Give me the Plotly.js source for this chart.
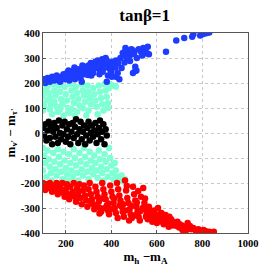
<!DOCTYPE html>
<html><head><meta charset="utf-8">
<script src="https://cdn.plot.ly/plotly-3.0.1.min.js"></script>
<style>html,body{margin:0;padding:0;background:#fff}</style>
</head><body><div id="chart" style="width:273px;height:273px"></div>
<script>
const titleText = "tanβ=1";
const xTickVals = [200,400,600,800,1000];
const yTickVals = [-400,-300,-200,-100,0,100,200,300,400];

const blueX = [100,105,110,115,120,130,135,140,150,155,160,170,175,180,190,195,200,205,210,215,220,225,230,235,240,245,250,255,260,265,270,275,280,285,290,295,300,305,310,315,320,325,330,335,340,345,350,355,360,365,370,375,380,385,390,395,400,405,410,420,430,440,445,450,455,460,470,475,480,490,495,500,505,510,520,530,540,545,550,560,565,640,685,720,755,760,790,800,810,820,830,380,435,495,505,420,470,
  212,238,262,288,312,338,362,392,418,247,273,298,322,348,372,402,428,458,482,512,536,558,462,488];
const blueY = [205,215,200,210,220,205,215,225,210,220,230,215,205,225,235,215,230,240,220,210,235,245,225,250,215,240,230,255,245,220,205,250,260,235,265,245,270,255,280,265,240,275,285,260,290,270,250,285,295,265,280,300,290,230,275,255,245,285,270,290,280,300,260,320,310,325,300,330,310,315,330,320,265,250,335,325,340,320,330,345,315,325,370,380,385,395,390,395,398,400,402,205,215,240,248,225,300,
  250,262,235,252,230,262,245,258,262,228,270,232,258,235,262,225,240,282,288,300,310,318,340,335];

const cyanX = [105,110,100,115,105,100,120,125,130,135,130,140,145,150,155,150,160,165,170,175,180,185,175,190,195,200,205,210,215,220,225,230,235,225,245,250,255,260,250,270,275,280,285,275,295,300,305,310,300,320,325,330,335,345,350,355,360,365,370,375,380,385,390,395,405,420,385,340,290,240,
  100,105,110,100,115,120,125,130,135,140,145,150,155,160,165,170,175,180,185,190,195,200,205,210,215,220,225,230,235,240,245,250,255,260,265,270,275,280,285,290,295,300,305,310,315,320,325,330,335,340,345,350,355,360,365,370,375,380,385,390,395,400,405,410,420,425,435,445,455,460,415];
const cyanY = [195,170,150,130,110,90,185,160,140,115,95,75,195,170,150,125,105,85,190,165,135,115,95,70,185,155,130,100,80,195,170,145,120,95,185,160,135,110,85,195,170,150,125,100,190,165,140,115,90,180,155,130,105,190,165,140,115,90,195,170,145,120,180,195,190,185,100,75,70,70,
  -60,-90,-120,-150,-175,-70,-105,-135,-160,-190,-80,-115,-145,-170,-65,-95,-125,-155,-185,-75,-110,-140,-165,-190,-85,-120,-150,-175,-65,-100,-130,-160,-190,-80,-115,-145,-170,-60,-95,-125,-155,-185,-75,-110,-140,-165,-90,-120,-150,-180,-70,-105,-135,-160,-190,-85,-115,-145,-175,-60,-100,-130,-160,-185,-150,-175,-190,-170,-195,-185,-120];

const blackX = [100,105,110,115,120,125,130,135,140,145,150,155,160,165,170,175,180,185,190,195,200,205,210,215,220,225,230,235,240,245,250,255,260,265,270,275,280,285,290,295,300,305,310,315,320,325,330,335,340,345,350,355,360,365,370,375,380];
const blackY = [20,-10,35,-30,10,45,-20,25,-45,5,40,-15,20,-40,50,0,-25,30,-5,45,-35,15,-15,35,-45,5,40,-20,25,55,-5,-40,15,45,-25,5,30,-45,-10,20,45,-30,0,30,-15,10,40,-40,-5,20,50,-25,5,35,-45,15,-10];

const redX = [100,105,110,115,125,130,140,145,155,160,165,175,180,185,195,200,205,210,215,220,230,235,240,245,250,255,260,265,270,275,280,285,290,295,300,305,310,315,320,325,330,335,340,345,350,355,360,365,370,375,380,385,390,395,400,405,410,415,420,425,430,435,440,445,450,455,460,465,470,475,480,485,490,495,500,505,510,515,520,525,530,540,545,550,555,560,565,570,575,580,590,595,600,605,610,615,620,625,630,640,650,655,660,665,670,690,700,710,720,735,740,750,760,770,790,800,815,830,850,120,150,170,190,225,
  312,338,362,388,412,438,462,488,512,538,562,588,612,638,662,688,712,348,372,398,428,452,478,502,528,552,578,602,628,652,675,698,728,745,782,805,468,518,548,582];
const redY = [-200,-215,-228,-205,-220,-200,-235,-210,-225,-200,-245,-215,-235,-200,-255,-225,-205,-245,-265,-215,-235,-200,-255,-275,-220,-240,-205,-260,-285,-230,-210,-250,-270,-295,-225,-200,-245,-265,-285,-305,-215,-235,-255,-275,-300,-315,-200,-225,-245,-265,-290,-310,-325,-210,-235,-255,-280,-300,-320,-200,-225,-250,-270,-295,-315,-335,-190,-230,-260,-280,-305,-325,-340,-215,-245,-270,-295,-315,-335,-350,-255,-220,-280,-305,-325,-345,-295,-315,-335,-355,-325,-345,-360,-300,-335,-350,-320,-345,-365,-340,-355,-335,-365,-350,-370,-355,-365,-370,-380,-360,-375,-385,-380,-390,-390,-395,-393,-395,-395,-212,-218,-225,-240,-250,
  -278,-292,-262,-282,-262,-288,-310,-292,-278,-300,-318,-310,-325,-328,-345,-372,-388,-322,-300,-305,-340,-285,-350,-330,-312,-335,-345,-342,-358,-375,-362,-378,-390,-372,-385,-388,-212,-232,-262,-328];

function tr(x,y,c){return {x:x,y:y,type:'scatter',mode:'markers',marker:{color:c,size:6.5,line:{width:0}},hoverinfo:'skip',showlegend:false};}
const data = [tr(cyanX,cyanY,'#7fffd4'),tr(blackX,blackY,'#000000'),tr(redX,redY,'#ff0000'),tr(blueX,blueY,'#1e3cff')];

const fnt = {family:'"Liberation Serif", "Times New Roman", serif', color:'#000'};
const layout = {
  width:273,height:273,
  margin:{l:43,r:25,t:33,b:40},
  paper_bgcolor:'#fff',plot_bgcolor:'#fff',
  title:{text:titleText,font:Object.assign({size:17,weight:'bold'},fnt),x:0.53,xanchor:'center',y:0.945,yanchor:'middle'},
  xaxis:{range:[100,1000],tickvals:xTickVals,ticktext:xTickVals.map(String),showgrid:true,gridcolor:'#c8c8c8',griddash:'dot',gridwidth:1,
    showline:true,mirror:true,linecolor:'#555',linewidth:1,ticks:'inside',ticklen:3,tickcolor:'#555',zeroline:false,
    tickfont:Object.assign({size:10.5,weight:'bold'},fnt),
    title:{text:'m<sub>h</sub> −m<sub>A</sub>',font:Object.assign({size:13,weight:'bold'},fnt),standoff:4}},
  yaxis:{range:[-400,400],tickvals:yTickVals,ticktext:yTickVals.map(v=>v<0?'-'+Math.abs(v):String(v)),showgrid:true,gridcolor:'#c8c8c8',griddash:'dot',gridwidth:1,
    showline:true,mirror:true,linecolor:'#555',linewidth:1,ticks:'inside',ticklen:3,tickcolor:'#555',zeroline:false,
    tickfont:Object.assign({size:10.5,weight:'bold'},fnt),
    title:{text:'m<sub>ν\'</sub> − m<sub>τ\'</sub>',font:Object.assign({size:13,weight:'bold'},fnt),standoff:2}}
};
Plotly.newPlot('chart',data,layout,{staticPlot:true,displayModeBar:false});
</script></body></html>
